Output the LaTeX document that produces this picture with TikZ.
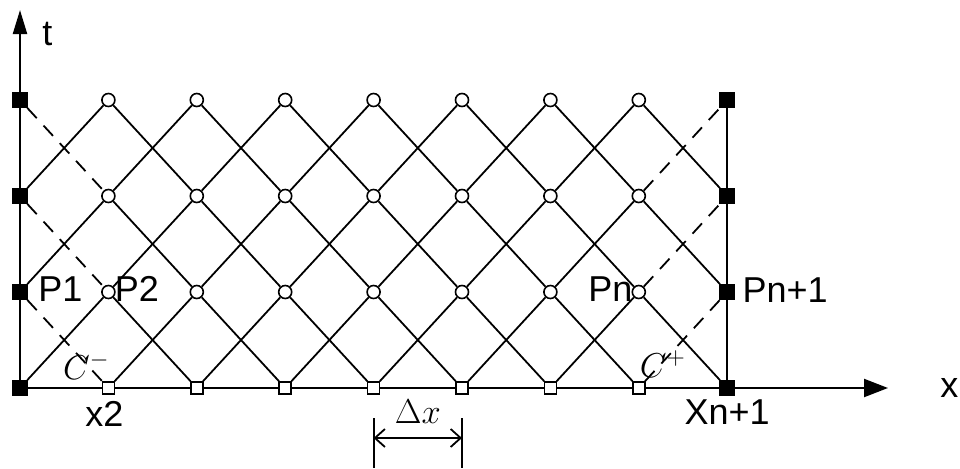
\documentclass[tikz,border=0pt]{standalone}
\usepackage{fontspec}
\setmainfont{Liberation Sans}
\usetikzlibrary{arrows.meta,calc}

\tikzset{
  bnode/.style={rectangle, draw, fill=black, minimum size=7.5pt, inner sep=0pt},
  xnode/.style={rectangle, draw, fill=white, line width=0.8pt, minimum size=6pt, inner sep=0pt},
  inode/.style={circle, draw, fill=white, line width=0.8pt, minimum size=6.5pt, inner sep=0pt},
  lbl/.style={inner sep=0pt, font=\fontsize{18}{21}\selectfont},
  axis/.style={line width=1.1pt},
  charline/.style={line width=0.9pt},
  bndline/.style={line width=0.9pt, dash pattern=on 7pt off 5pt},
}

\begin{document}
\begin{tikzpicture}[x=0.5pt, y=0.5pt]
  \useasboundingbox (-20,-80) rectangle (940,388);

  % Grid points: boundary squares, bottom squares, interior circles
  \foreach \i in {0,8} {
      \foreach \j in {0,...,3} {
          \node[bnode] (p-\i-\j) at (88.4*\i, 96*\j) {};
      }
  }
  \foreach \i in {1,...,7} {
      \node[xnode] (p-\i-0) at (88.4*\i, 0) {};
      \foreach \j in {1,2,3} {
          \node[inode] (p-\i-\j) at (88.4*\i, 96*\j) {};
      }
  }

  % Axes and right boundary
  \coordinate (tend) at (0,378);
  \coordinate (xend) at (868,0);
  \foreach \i [count=\k] in {0,...,7} {
      \draw[axis] (p-\i-0) -- (p-\k-0);
  }
  \foreach \j [count=\m] in {0,1,2} {
      \draw[axis] (p-0-\j) -- (p-0-\m);
      \draw[axis] (p-8-\j) -- (p-8-\m);
  }
  \draw[axis, -{Triangle[length=12pt, width=9pt]}] (p-8-0) -- (xend);
  \draw[axis, -{Triangle[length=12pt, width=7pt]}] (p-0-3) -- (tend);

  % Characteristics: dashed where they leave the boundary
  \foreach \i [count=\k] in {0,...,7} {
      \foreach \j [count=\m] in {0,1,2} {
          \ifnum\i=7
              \draw[bndline] (p-\i-\j) -- (p-\k-\m);
          \else
              \draw[charline] (p-\i-\j) -- (p-\k-\m);
          \fi
          \ifnum\i=0
              \draw[bndline] (p-\i-\m) -- (p-\k-\j);
          \else
              \draw[charline] (p-\i-\m) -- (p-\k-\j);
          \fi
      }
  }

  % Axis labels
  \node[lbl, anchor=base west] (tlab) at (22,343) {t};
  \node[lbl, anchor=base west] (xlab) at (920,-9) {x};

  % Point labels
  \node[lbl, anchor=base west] (P1) at ($(p-0-1)+(18,-9)$) {P1};
  \node[lbl, anchor=base west] (P2) at ($(p-1-1)+(6,-9)$) {P2};
  \node[lbl, anchor=base east] (Pn) at ($(p-7-1)+(-6,-9)$) {Pn};
  \node[lbl, anchor=base west] (Pn1) at ($(p-8-1)+(15,-10)$) {Pn+1};
  \node[lbl, anchor=base] (x2) at ($(p-1-0)+(-4,-38)$) {x2};
  \node[lbl, anchor=base] (Xn1) at ($(p-8-0)+(0,-36)$) {Xn+1};
  \node[lbl] (cminus) at ($(p-1-0)+(-22,22)$) {$C^-$};
  \node[lbl] (cplus) at ($(p-7-0)+(24,24)$) {$C^+$};

  % Mesh step
  \coordinate (d4a) at ($(p-4-0)+(0,-30)$);
  \coordinate (d4b) at ($(p-4-0)+(0,-80)$);
  \coordinate (d5a) at ($(p-5-0)+(0,-30)$);
  \coordinate (d5b) at ($(p-5-0)+(0,-80)$);
  \coordinate (d4) at ($(p-4-0)+(0,-50)$);
  \coordinate (d5) at ($(p-5-0)+(0,-50)$);
  \draw[charline] (d4a) -- (d4b);
  \draw[charline] (d5a) -- (d5b);
  \draw[charline, {Straight Barb[length=5pt, width=9pt]}-{Straight Barb[length=5pt, width=9pt]}] (d4) -- (d5);
  \node[lbl, anchor=base] (dx) at ($(p-4-0)!0.5!(p-5-0)+(0,-35)$) {$\Delta x$};
\end{tikzpicture}
\end{document}
